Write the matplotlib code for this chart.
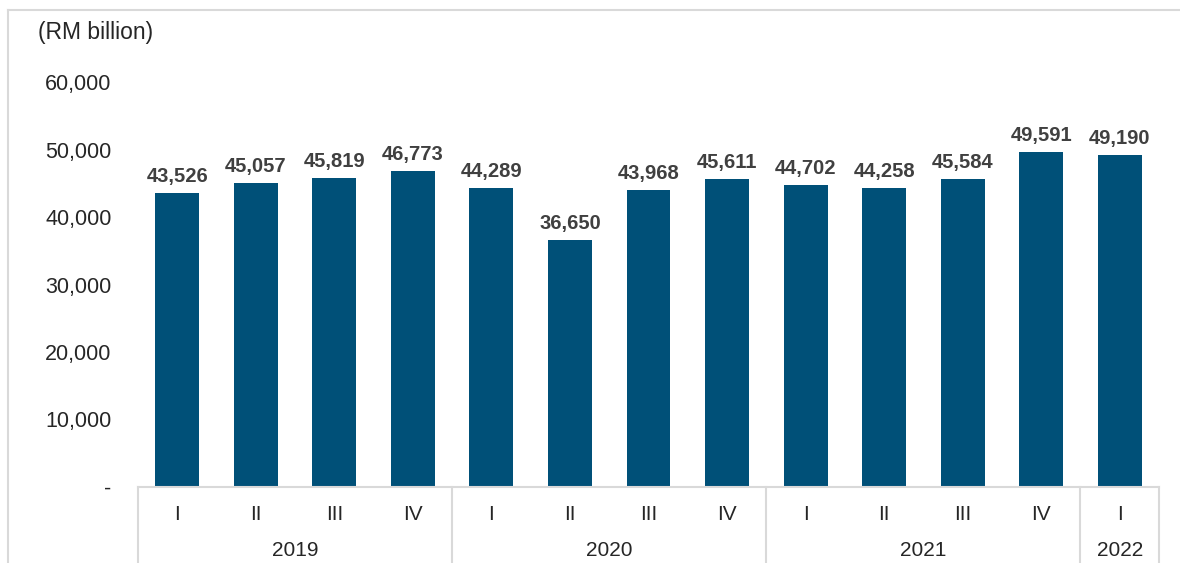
import matplotlib.pyplot as plt
from matplotlib.lines import Line2D

quarters = ["I", "II", "III", "IV", "I", "II", "III", "IV", "I", "II", "III", "IV", "I"]
values = [43526, 45057, 45819, 46773, 44289, 36650, 43968, 45611,
          44702, 44258, 45584, 49591, 49190]
years = ["2019", "2020", "2021", "2022"]
year_sizes = [4, 4, 4, 1]
yticks = [0, 10000, 20000, 30000, 40000, 50000, 60000]
ytick_labels = ["-", "10,000", "20,000", "30,000", "40,000", "50,000", "60,000"]

plt.rcParams["font.family"] = ["Liberation Sans", "DejaVu Sans"]
text_col = "#262626"
grid_col = "#d9d9d9"

fig = plt.figure(figsize=(11.8, 5.63), dpi=100)
ax = fig.add_axes([138 / 1180, 76 / 563, 1021 / 1180, 405 / 563])

x = list(range(len(values)))
bars = ax.bar(x, values, width=0.56, color="#005078")
for b, v in zip(bars, values):
    ax.annotate(f"{v:,}", (b.get_x() + b.get_width() / 2, v),
                xytext=(0, 5), textcoords="offset points",
                ha="center", va="bottom", fontsize=14.5,
                fontweight="bold", color="#404040")

ax.set_xlim(-0.5, len(values) - 0.5)
ax.set_ylim(0, 60000)
ax.set_yticks(yticks)
ax.set_yticklabels(ytick_labels, fontsize=15.5, color=text_col)
ax.tick_params(axis="y", length=0, pad=19)
ax.set_xticks([])
for s in ax.spines.values():
    s.set_visible(False)

trans = ax.get_xaxis_transform()
# category table below the bars
ax.plot([-0.5, len(values) - 0.5], [0, 0], color=grid_col, lw=1.5,
        transform=trans, clip_on=False)
for xi, q in zip(x, quarters):
    ax.text(xi, -0.069, q, transform=trans, ha="center", va="center",
            fontsize=15, color=text_col)
start = -0.5
edges = [start]
for name, n in zip(years, year_sizes):
    ax.text(start + n / 2, -0.158, name, transform=trans, ha="center",
            va="center", fontsize=15, color=text_col)
    start += n
    edges.append(start)
for e in edges:
    ax.plot([e, e], [0, -0.2], color=grid_col, lw=1.5,
            transform=trans, clip_on=False)

fig.text(38 / 1180, 1 - 33 / 563, "(RM billion)", fontsize=16.5,
         color=text_col, va="center", ha="left")

# outer frame
fig.add_artist(Line2D([8 / 1180, 1], [1 - 10 / 563, 1 - 10 / 563],
                      color=grid_col, lw=1.5, transform=fig.transFigure))
fig.add_artist(Line2D([8 / 1180, 8 / 1180], [0, 1 - 10 / 563],
                      color=grid_col, lw=1.5, transform=fig.transFigure))

fig.savefig("out.png", dpi=100)
